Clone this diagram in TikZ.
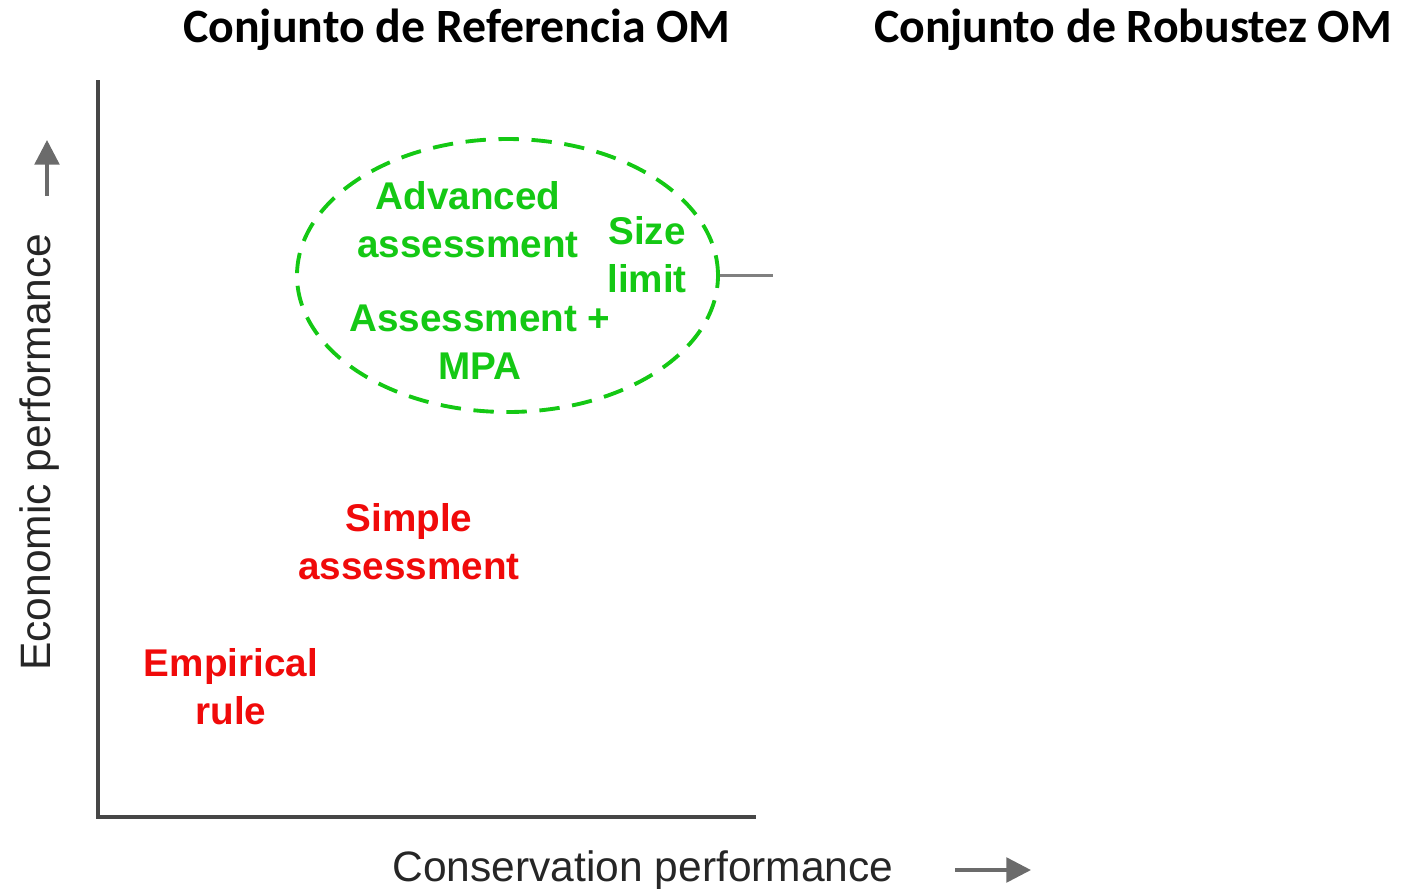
\documentclass[tikz,border=0pt]{standalone}
\usepackage{fontspec}
\setmainfont{Liberation Sans}
\newfontfamily\titlefont{Carlito}
\usetikzlibrary{shapes.geometric,arrows.meta}

\definecolor{omgreen}{RGB}{20,200,20}
\definecolor{omred}{RGB}{240,10,10}
\definecolor{axisgray}{RGB}{70,70,70}

\tikzset{
  title/.style={font=\titlefont\bfseries\fontsize{13.6}{16}\selectfont},
  axislabel/.style={font=\fontsize{12.1}{14}\selectfont,text=black!85},
  green label/.style={align=center,text=omgreen,font=\bfseries\fontsize{11}{13.7}\selectfont},
  red label/.style={align=center,text=omred,font=\bfseries\fontsize{11}{13.7}\selectfont},
  axisarrow/.style={axisgray!80,line width=1pt,-{Triangle[length=7pt,width=7pt]}}
}

\begin{document}
\begin{tikzpicture} % [1419x888 px, 1px = 0.01cm]
  \useasboundingbox (0,0) rectangle (14.19,-8.88);
  \node[title] (ref) at (4.57,-0.30) {Conjunto de Referencia OM};
  \node[title] (rob) at (11.33,-0.30) {Conjunto de Robustez OM};
  \draw[axisgray,line width=0.9pt] (0.98,-0.80) -- (0.98,-8.17) -- (7.56,-8.17);
  \node[axislabel,rotate=90] (ylab) at (0.40,-4.52) {Economic performance};
  \node[axislabel] (xlab) at (6.43,-8.70) {Conservation performance};
  \coordinate (yfrom) at (0.47,-1.96);
  \coordinate (yto) at (0.47,-1.40);
  \coordinate (xfrom) at (9.55,-8.70);
  \coordinate (xto) at (10.31,-8.70);
  \draw[axisarrow] (yfrom) -- (yto);
  \draw[axisarrow] (xfrom) -- (xto);
  \node[ellipse,draw=omgreen,line width=1.1pt,dash pattern=on 5.8pt off 3.6pt,
        minimum width=4.21cm,minimum height=2.73cm] (om) at (5.075,-2.755) {};
  \coordinate (omend) at (7.73,-2.755);
  \draw[gray,line width=1pt] (om.east) -- (omend);
  \node[green label] (adv) at (4.68,-2.20) {Advanced\\assessment};
  \node[green label] (size) at (6.47,-2.55) {Size\\limit};
  \node[green label] (mpa) at (4.80,-3.42) {Assessment +\\MPA};
  \node[red label] (simple) at (4.09,-5.42) {Simple\\assessment};
  \node[red label] (emp) at (2.31,-6.87) {Empirical\\rule};
\end{tikzpicture}
\end{document}
